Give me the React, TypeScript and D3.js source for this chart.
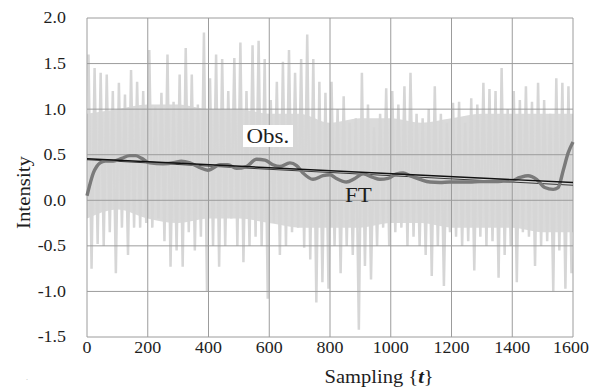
import React from 'react';
import * as d3 from 'd3';

const W = 603;
const H = 392;

// observed signal, read as spike tops / bottoms per 20-sample bin
const obsHigh = [
  1.6, 1.45, 1.4, 1.38, 1.2, 1.29, 1.16, 1.43, 1.3, 1.2,
  1.65, 1.03, 1.18, 1.6, 1.08, 1.38, 1.67, 1.38, 1.05, 1.84,
  1.34, 1.6, 1.55, 1.2, 1.56, 1.73, 1.2, 1.7, 1.75, 1.55,
  1.1, 1.3, 1.52, 1.65, 1.4, 1.55, 1.82, 1.55, 1.3, 1.18,
  1.3, 1.0, 1.14, 0.85, 0.9, 1.4, 1.05, 0.8, 0.95, 1.23,
  1.2, 1.05, 1.25, 1.4, 0.95, 0.9, 1.0, 1.25, 0.95, 0.85,
  1.07, 1.08, 0.85, 1.12, 1.05, 1.29, 1.22, 1.2, 1.45, 1.0,
  1.2, 1.1, 1.25, 1.08, 1.29, 1.1, 0.95, 1.34, 1.29, 1.25,
];
const obsLow = [
  -0.75, -0.48, -0.5, -0.35, -0.8, -0.3, -0.6, -0.3, -0.3, -0.25,
  -0.3, -0.2, -0.45, -0.73, -0.55, -0.73, -0.35, -0.55, -0.4, -1.0,
  -0.5, -0.73, -0.5, -0.2, -0.5, -0.68, -0.5, -0.4, -0.5, -1.08,
  -0.25, -0.6, -0.5, -0.35, -0.3, -0.52, -0.65, -1.12, -0.9, -0.97,
  -0.5, -0.8, -0.5, -0.6, -1.42, -0.72, -0.87, -0.5, -0.3, -0.5,
  -0.35, -0.3, -0.5, -0.4, -0.5, -0.6, -0.83, -0.5, -0.94, -0.35,
  -0.4, -0.5, -0.45, -0.77, -0.4, -0.5, -0.45, -0.85, -0.6, -0.5,
  -0.9, -0.35, -0.4, -0.72, -0.5, -0.45, -1.0, -0.55, -0.97, -0.8,
];
const binSize = 20;

// dense core of the observed band, every 100 samples
const coreT = [0, 100, 200, 300, 400, 500, 600, 700, 800, 900, 1000, 1100, 1200, 1300, 1400, 1500, 1600];
const coreTop = [0.95, 1.0, 1.05, 1.05, 1.0, 1.0, 0.95, 0.95, 0.85, 0.9, 0.9, 0.85, 0.9, 0.95, 0.95, 0.95, 0.95];
const coreBottom = [-0.2, -0.1, -0.2, -0.25, -0.2, -0.2, -0.25, -0.3, -0.3, -0.3, -0.25, -0.25, -0.3, -0.3, -0.3, -0.35, -0.35];

// Fourier fit
const ftT = [
  0, 15, 21, 32, 43, 60, 87, 114, 141, 160, 180, 207, 250, 290, 310, 339, 370, 398,
  438, 464, 492, 525, 558, 586, 612, 635, 668, 690, 711, 744, 777, 800, 821, 854,
  882, 909, 942, 964, 991, 1019, 1041, 1063, 1096, 1129, 1162, 1194, 1227, 1260,
  1293, 1326, 1370, 1397, 1425, 1452, 1480, 1507, 1535, 1551, 1568, 1584, 1600,
];
const ftV = [
  0.05, 0.24, 0.3, 0.37, 0.41, 0.43, 0.43, 0.46, 0.49, 0.49, 0.46, 0.41, 0.4, 0.415, 0.43, 0.41, 0.36, 0.33,
  0.39, 0.39, 0.35, 0.37, 0.45, 0.44, 0.39, 0.37, 0.41, 0.38, 0.3, 0.23, 0.27, 0.28, 0.24, 0.2,
  0.24, 0.29, 0.25, 0.23, 0.24, 0.29, 0.3, 0.27, 0.23, 0.2, 0.195, 0.2, 0.2, 0.2,
  0.205, 0.205, 0.21, 0.215, 0.25, 0.27, 0.23, 0.14, 0.12, 0.14, 0.33, 0.52, 0.64,
];

// linear trends
const trendA = [[0, 0.455], [1600, 0.195]];
const trendB = [[0, 0.445], [1600, 0.165]];

const xTicks = [0, 200, 400, 600, 800, 1000, 1200, 1400, 1600];
const yTicks = [-1.5, -1.0, -0.5, 0.0, 0.5, 1.0, 1.5, 2.0];

const FONT = '"Liberation Serif", "Times New Roman", serif';
const SX = 1.12;

const App = () => {
  const x = d3.scaleLinear().domain([0, 1600]).range([87, 573]);
  const y = d3.scaleLinear().domain([-1.5, 2.0]).range([337, 18]);

  const obsPts: [number, number][] = [];
  obsHigh.forEach((h, i) => {
    obsPts.push([i * binSize + 5, h]);
    obsPts.push([i * binSize + 15, obsLow[i]]);
  });

  const line = d3.line<number[]>().x(d => x(d[0])).y(d => y(d[1]));
  const core = d3.area<number>()
    .x((_, i) => x(coreT[i]))
    .y0((_, i) => y(coreBottom[i]))
    .y1(d => y(d))
    .curve(d3.curveMonotoneX);
  const ftLine = d3.line<number>()
    .x((_, i) => x(ftT[i]))
    .y(d => y(d))
    .curve(d3.curveMonotoneX);

  const gridColor = '#9c9c9c';
  const textColor = '#1e1e1e';

  return (
    <svg width={W} height={H} style={{ position: 'absolute', left: 0, top: 0, background: '#fff', fontFamily: FONT }}>
      {/* observed */}
      <path d={core(coreTop) || ''} fill="#dadada" />
      <path d={line(obsPts) || ''} fill="none" stroke="#d6d6d6" strokeWidth={2.5} />

      {/* grid */}
      {xTicks.map(t => (
        <line key={'gx' + t} x1={x(t)} x2={x(t)} y1={y(2)} y2={y(-1.5)} stroke={gridColor} strokeWidth={1} />
      ))}
      {yTicks.map(t => (
        <line key={'gy' + t} x1={x(0)} x2={x(1600)} y1={y(t)} y2={y(t)} stroke={gridColor} strokeWidth={1} />
      ))}

      {/* Obs. label box */}
      <rect x={243} y={125} width={50} height={22} fill="#fff" />

      {/* trends + FT */}
      <path d={line(trendB) || ''} fill="none" stroke="#3a3a3a" strokeWidth={1} />
      <path d={ftLine(ftV) || ''} fill="none" stroke="#7a7a7a" strokeWidth={3.4} strokeLinejoin="round" />
      <path d={line(trendA) || ''} fill="none" stroke="#111" strokeWidth={1.4} />

      {/* labels */}
      <text transform={`translate(246.5,143) scale(${SX},1)`} fontSize={20.5} fill={textColor}>Obs.</text>
      <text transform={`translate(345,201.5) scale(${SX},1)`} fontSize={20.5} fill={textColor}>FT</text>

      {/* y tick labels */}
      {yTicks.map(t => (
        <text key={'ty' + t} transform={`translate(66,${y(t)}) scale(${SX},1)`} textAnchor="end"
          dy="0.34em" fontSize={16} fill={textColor}>{t.toFixed(1)}</text>
      ))}
      {/* x tick labels */}
      {xTicks.map(t => (
        <text key={'tx' + t} transform={`translate(${x(t) - (t === 1600 ? 2 : 0)},353) scale(${SX},1)`}
          textAnchor="middle" fontSize={16} fill={textColor}>{t}</text>
      ))}

      {/* axis titles */}
      <text transform={`translate(324.5,383) scale(1.14,1)`} fontSize={18} fill={textColor}>
        Sampling {'{'}<tspan fontStyle="italic" fontWeight="bold">t</tspan>{'}'}
      </text>
      <text transform="translate(30,192.5) rotate(-90)" textAnchor="middle" fontSize={18}
        textLength={73} lengthAdjust="spacingAndGlyphs" fill={textColor}>Intensity</text>
      <text x={26} y={380} fontSize={8} fill="#bbb">.</text>
    </svg>
  );
};

export default App;
